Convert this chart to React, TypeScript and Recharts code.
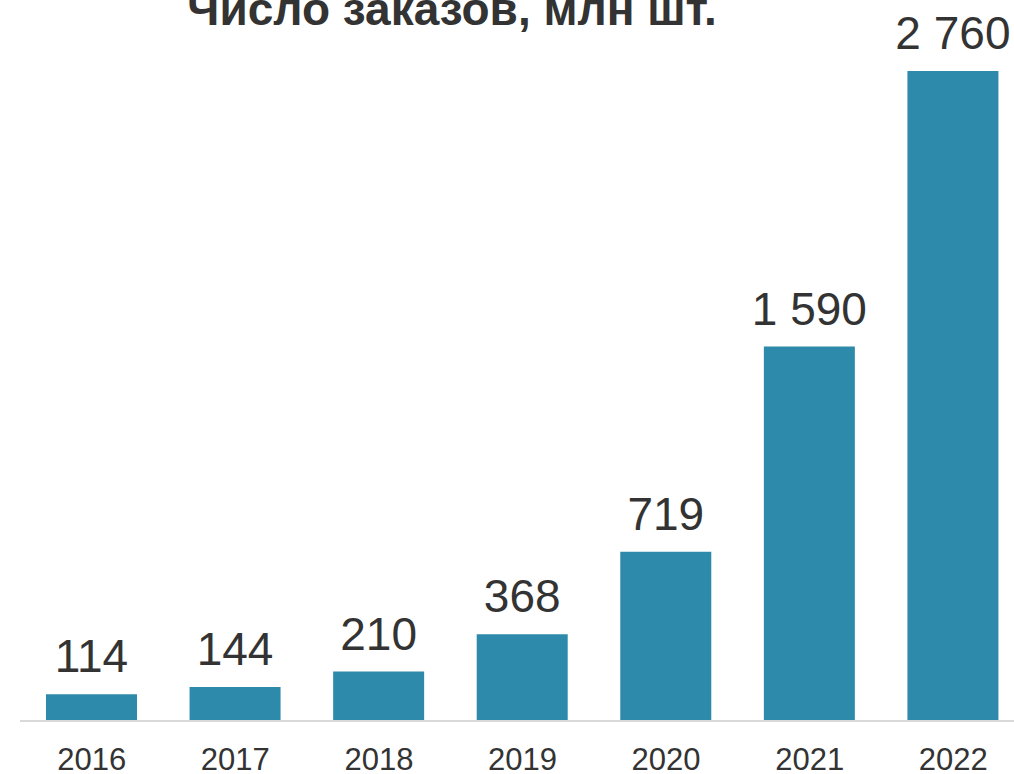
import { BarChart, Bar, XAxis, YAxis, LabelList } from 'recharts'

const years = ['2016', '2017', '2018', '2019', '2020', '2021', '2022']
const orders = [114, 144, 210, 368, 719, 1590, 2760]

const data = years.map((year, i) => ({ year, orders: orders[i] }))

const formatValue = (v: any) =>
  String(v).replace(/\B(?=(\d{3})+(?!\d))/g, ' ')

export default function App() {
  return (
    <div
      style={{
        position: 'absolute',
        left: 0,
        top: 0,
        width: 1014,
        height: 774,
        overflow: 'hidden',
        background: '#fff',
        fontFamily: '"Liberation Sans", Arial, sans-serif',
      }}
    >
      <div
        style={{
          position: 'absolute',
          left: 152,
          width: 600,
          top: -14,
          textAlign: 'center',
          fontSize: 46,
          lineHeight: 1,
          fontWeight: 700,
          color: '#333333',
          whiteSpace: 'nowrap',
        }}
      >
        Число заказов, млн шт.
      </div>
      <BarChart
        width={1030}
        height={774}
        data={data}
        margin={{ top: 71, right: 5, bottom: 0, left: 20 }}
      >
        <XAxis
          dataKey="year"
          height={53}
          tickLine={false}
          tickSize={0}
          tickMargin={27}
          axisLine={{ stroke: '#d9d9d9', strokeWidth: 2 }}
          tick={{ fill: '#333333', fontSize: 31 }}
          interval={0}
        />
        <YAxis hide domain={[0, 2760]} />
        <Bar dataKey="orders" fill="#2E8AAA" barSize={91} isAnimationActive={false}>
          <LabelList
            dataKey="orders"
            position="top"
            offset={22}
            formatter={formatValue}
            style={{ fill: '#333333', fontSize: 46 }}
          />
        </Bar>
      </BarChart>
    </div>
  )
}
